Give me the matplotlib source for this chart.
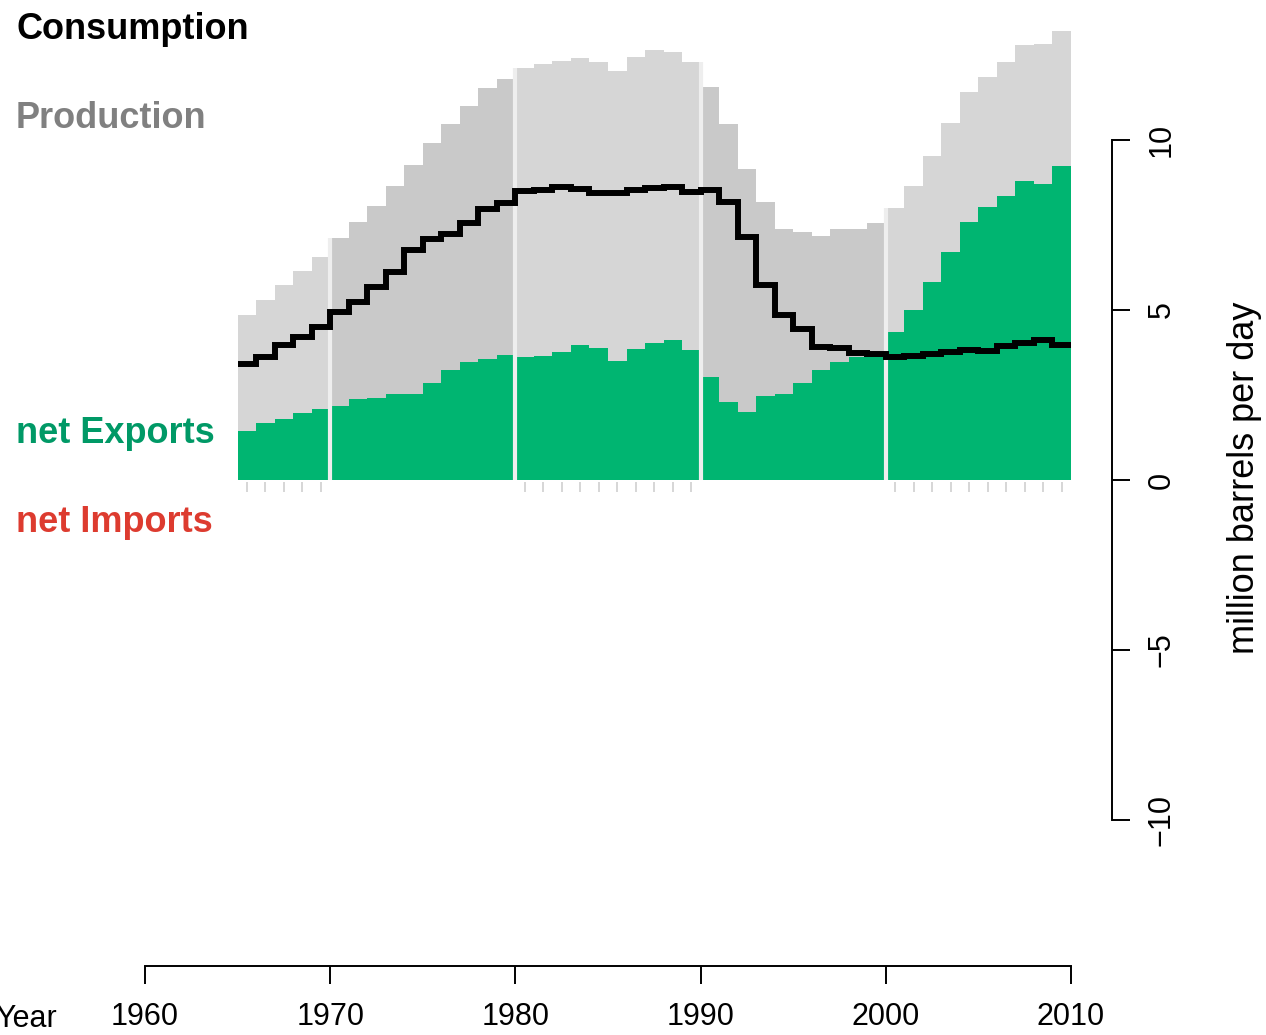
import numpy as np
import matplotlib.pyplot as plt

plt.rcParams['font.family'] = ['Liberation Sans', 'DejaVu Sans']

# oil data, million barrels per day
years = list(range(1965, 2010))
production = [4.85, 5.29, 5.74, 6.16, 6.55,
              7.11, 7.60, 8.06, 8.66, 9.26, 9.90, 10.46, 11.00, 11.52, 11.79,
              12.11, 12.25, 12.31, 12.40, 12.29, 12.03, 12.44, 12.65, 12.59, 12.29,
              11.57, 10.47, 9.15, 8.19, 7.38, 7.30, 7.18, 7.37, 7.38, 7.55,
              7.99, 8.66, 9.53, 10.49, 11.42, 11.84, 12.30, 12.79, 12.82, 13.20]
net_exports = [1.45, 1.67, 1.80, 1.96, 2.09,
               2.19, 2.37, 2.40, 2.53, 2.53, 2.84, 3.24, 3.48, 3.56, 3.68,
               3.61, 3.65, 3.77, 3.97, 3.87, 3.50, 3.85, 4.02, 4.12, 3.82,
               3.04, 2.30, 1.99, 2.47, 2.52, 2.84, 3.24, 3.48, 3.63, 3.70,
               4.36, 5.00, 5.83, 6.72, 7.60, 8.04, 8.36, 8.80, 8.71, 9.25]
consumption = [3.40, 3.63, 3.97, 4.22, 4.49,
               4.95, 5.25, 5.69, 6.13, 6.76, 7.08, 7.25, 7.55, 7.96, 8.14,
               8.50, 8.53, 8.61, 8.56, 8.45, 8.43, 8.53, 8.58, 8.63, 8.48,
               8.53, 8.19, 7.16, 5.74, 4.85, 4.43, 3.92, 3.87, 3.75, 3.72,
               3.63, 3.65, 3.70, 3.77, 3.82, 3.80, 3.94, 4.02, 4.12, 3.97]
decades = [1970, 1980, 1990, 2000]
x_ticks = [1960, 1970, 1980, 1990, 2000, 2010]
y_ticks = [-10, -5, 0, 5, 10]

light_gray = '#d6d6d6'
dark_gray = '#c9c9c9'
green = '#00b571'
green_txt = '#009966'
red_txt = '#dd3b2f'

W, H = 1266, 1035
fig = plt.figure(figsize=(W / 100, H / 100), dpi=100)
ax = fig.add_axes([145 / W, 69 / H, 926 / W, 966 / H])
ax.set_xlim(1960, 2010)
ax.set_ylim(-486 / 34, 480 / 34)

yrs = np.array(years)
prod = np.array(production)
exps = np.array(net_exports)

# production bars, alternating shade per decade
shade = [light_gray if (y // 10) % 2 == 0 else dark_gray for y in yrs]
ax.bar(yrs, prod, width=1.0, align='edge', color=shade, linewidth=0, zorder=1)
ax.bar(yrs, exps, width=1.0, align='edge', color=green, linewidth=0, zorder=2)

# decade separators
for d in decades:
    i = years.index(d)
    top = max(production[i - 1], production[i])
    ax.vlines(d, 0, top, color='#eeeeee', lw=3.0, zorder=3)

# consumption step line
cx = np.append(yrs, yrs[-1] + 1)
cy = np.append(consumption, consumption[-1])
ax.step(cx, cy, where='post', color='black', lw=4.3, zorder=4,
        solid_joinstyle='miter', solid_capstyle='butt')

# small year ticks under the light decades
centers = [y + 0.5 for y in years if (y // 10) % 2 == 0]
ax.vlines(centers, -0.35, -0.06, color='#d0d0d0', lw=1.2, zorder=1)

# axes in R style
for s in ['left', 'top']:
    ax.spines[s].set_visible(False)
ax.spines['bottom'].set_bounds(1960, 2010)
ax.spines['bottom'].set_linewidth(1.4)
ax.spines['right'].set_position(('axes', 967 / 926))
ax.spines['right'].set_bounds(-10, 10)
ax.spines['right'].set_linewidth(1.4)
ax.yaxis.tick_right()
ax.set_xticks(x_ticks)
ax.set_yticks(y_ticks)
ax.set_yticklabels(['\u221210', '\u22125', '0', '5', '10'], rotation=90, va='center')
ax.tick_params(axis='x', length=13, width=1.4, pad=13, labelsize=22)
ax.tick_params(axis='y', length=13, width=1.4, pad=12, labelsize=22)

fig.text(1245 / W, 1 - 478 / H, 'million barrels per day', rotation=90,
         ha='center', va='center', fontsize=26)
fig.text(57 / W, 1 - 1027 / H, 'Year', ha='right', va='baseline', fontsize=22)

# legend-like labels
fig.text(16 / W, 1 - 39 / H, 'Consumption', fontsize=26, fontweight='bold',
         color='black', va='baseline')
fig.text(16 / W, 1 - 128 / H, 'Production', fontsize=26, fontweight='bold',
         color='#808080', va='baseline')
fig.text(16 / W, 1 - 443 / H, 'net Exports', fontsize=26, fontweight='bold',
         color=green_txt, va='baseline')
fig.text(16 / W, 1 - 532 / H, 'net Imports', fontsize=26, fontweight='bold',
         color=red_txt, va='baseline')

fig.savefig('out.png', dpi=100)
